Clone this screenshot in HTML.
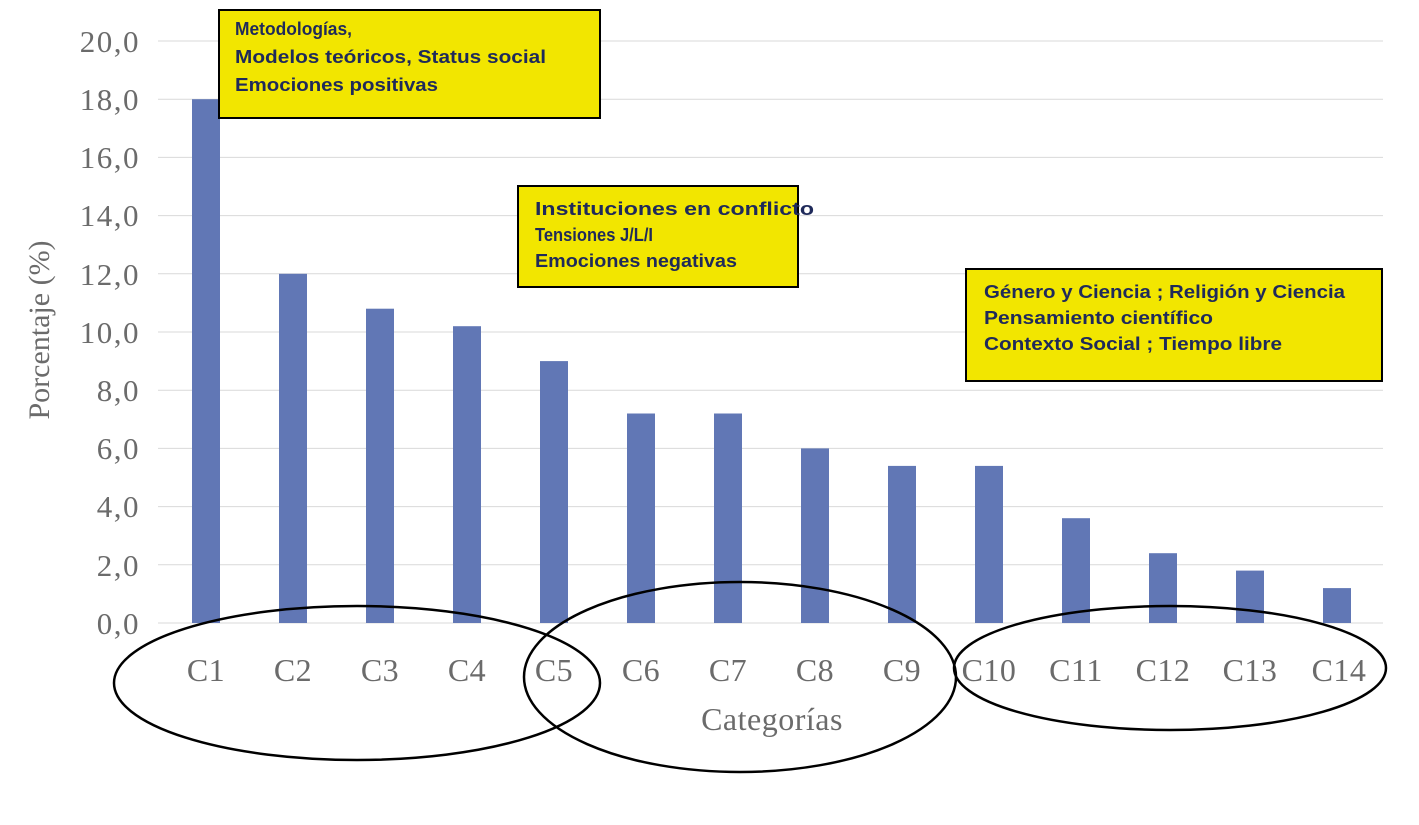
<!DOCTYPE html>
<html><head><meta charset="utf-8"><style>
html,body{margin:0;padding:0;background:#fff}
svg{display:block}
.t{font-family:"Liberation Serif",serif;fill:#6b6b6b}
.b{font-family:"Liberation Sans",sans-serif;font-weight:bold;fill:#1f2a5a;font-size:18px}
</style></head><body>
<svg width="1419" height="825" viewBox="0 0 1419 825" xmlns="http://www.w3.org/2000/svg">
<g stroke="#d9d9d9" stroke-width="1">
<line x1="158" x2="1383" y1="41" y2="41"/>
<line x1="158" x2="1383" y1="99.2" y2="99.2"/>
<line x1="158" x2="1383" y1="157.4" y2="157.4"/>
<line x1="158" x2="1383" y1="215.6" y2="215.6"/>
<line x1="158" x2="1383" y1="273.8" y2="273.8"/>
<line x1="158" x2="1383" y1="332" y2="332"/>
<line x1="158" x2="1383" y1="390.2" y2="390.2"/>
<line x1="158" x2="1383" y1="448.4" y2="448.4"/>
<line x1="158" x2="1383" y1="506.6" y2="506.6"/>
<line x1="158" x2="1383" y1="564.8" y2="564.8"/>
<line x1="158" x2="1383" y1="623" y2="623"/>
</g>
<g class="t" font-size="31" text-anchor="end" letter-spacing="1.5">
<text x="140" y="52">20,0</text><text x="140" y="110">18,0</text><text x="140" y="168">16,0</text>
<text x="140" y="226">14,0</text><text x="140" y="285">12,0</text><text x="140" y="343">10,0</text>
<text x="140" y="401">8,0</text><text x="140" y="459">6,0</text><text x="140" y="517">4,0</text>
<text x="140" y="576">2,0</text><text x="140" y="634">0,0</text>
</g>
<text class="t" font-size="30" transform="translate(49,330) rotate(-90)" text-anchor="middle">Porcentaje (%)</text>
<g fill="#6177b5">
<rect x="192" y="99.2" width="28" height="523.8"/>
<rect x="279" y="273.8" width="28" height="349.2"/>
<rect x="366" y="308.7" width="28" height="314.3"/>
<rect x="453" y="326.2" width="28" height="296.8"/>
<rect x="540" y="361.1" width="28" height="261.9"/>
<rect x="627" y="413.5" width="28" height="209.5"/>
<rect x="714" y="413.5" width="28" height="209.5"/>
<rect x="801" y="448.4" width="28" height="174.6"/>
<rect x="888" y="465.9" width="28" height="157.1"/>
<rect x="975" y="465.9" width="28" height="157.1"/>
<rect x="1062" y="518.2" width="28" height="104.8"/>
<rect x="1149" y="553.2" width="28" height="69.8"/>
<rect x="1236" y="570.6" width="28" height="52.4"/>
<rect x="1323" y="588.1" width="28" height="34.9"/>
</g>
<g class="t" font-size="32" text-anchor="middle" letter-spacing="0.5">
<text x="206" y="681">C1</text><text x="293" y="681">C2</text><text x="380" y="681">C3</text>
<text x="467" y="681">C4</text><text x="554" y="681">C5</text><text x="641" y="681">C6</text>
<text x="728" y="681">C7</text><text x="815" y="681">C8</text><text x="902" y="681">C9</text>
<text x="989" y="681">C10</text><text x="1076" y="681">C11</text><text x="1163" y="681">C12</text>
<text x="1250" y="681">C13</text><text x="1339" y="681">C14</text>
<text x="772" y="730" font-size="32">Categorías</text>
</g>
<g fill="none" stroke="#000" stroke-width="2.5">
<ellipse cx="357" cy="683" rx="243" ry="77"/>
<ellipse cx="740" cy="677" rx="216" ry="95"/>
<ellipse cx="1170" cy="668" rx="216" ry="62"/>
</g>
<rect x="219" y="10" width="381" height="108" fill="#f2e600" stroke="#000" stroke-width="2"/>
<text class="b" x="235" y="35" textLength="117" lengthAdjust="spacingAndGlyphs">Metodologías,</text>
<text class="b" x="235" y="63" textLength="311" lengthAdjust="spacingAndGlyphs">Modelos teóricos, Status social</text>
<text class="b" x="235" y="91" textLength="203" lengthAdjust="spacingAndGlyphs">Emociones positivas</text>
<rect x="518" y="186" width="280" height="101" fill="#f2e600" stroke="#000" stroke-width="2"/>
<text class="b" x="535" y="215" textLength="279" lengthAdjust="spacingAndGlyphs">Instituciones en conflicto</text>
<text class="b" x="535" y="241" textLength="118" lengthAdjust="spacingAndGlyphs">Tensiones J/L/I</text>
<text class="b" x="535" y="267" textLength="202" lengthAdjust="spacingAndGlyphs">Emociones negativas</text>
<rect x="966" y="269" width="416" height="112" fill="#f2e600" stroke="#000" stroke-width="2"/>
<text class="b" x="984" y="298" textLength="361" lengthAdjust="spacingAndGlyphs">Género y Ciencia ; Religión y Ciencia</text>
<text class="b" x="984" y="324" textLength="229" lengthAdjust="spacingAndGlyphs">Pensamiento científico</text>
<text class="b" x="984" y="350" textLength="298" lengthAdjust="spacingAndGlyphs">Contexto Social ; Tiempo libre</text>
</svg>
</body></html>
